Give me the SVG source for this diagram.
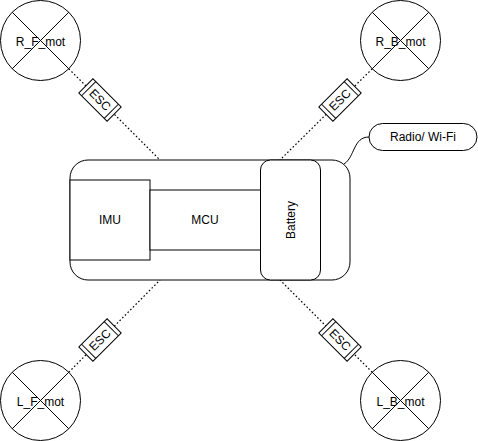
<svg xmlns="http://www.w3.org/2000/svg" width="478" height="441" viewBox="0 0 478 441">
<style>
.s{fill:#fff;stroke:#000;stroke-width:1}
.l{fill:none;stroke:#000;stroke-width:1}
.d{fill:none;stroke:#000;stroke-width:1.2;stroke-dasharray:1.6 2.2}
.t{font-family:"Liberation Sans",Arial,Helvetica,sans-serif;font-size:12px;fill:#000;text-anchor:middle;dominant-baseline:central}
</style>
<defs>
<g id="esc">
<rect class="s" x="-20" y="-10" width="40" height="20"/>
<line class="l" x1="-16" y1="-10" x2="-16" y2="10"/>
<line class="l" x1="16" y1="-10" x2="16" y2="10"/>
</g>
<g id="mot">
<circle class="s" cx="0" cy="0" r="40"/>
<line class="l" x1="-28.3" y1="-28.3" x2="28.3" y2="28.3"/>
<line class="l" x1="28.3" y1="-28.3" x2="-28.3" y2="28.3"/>
</g>
</defs>
<g id="connectors">
<line class="d" x1="68.8" y1="68.8" x2="160" y2="160"/>
<line class="d" x1="372.2" y1="68.8" x2="280" y2="160"/>
<line class="d" x1="68.8" y1="372.2" x2="160" y2="280"/>
<line class="d" x1="372.2" y1="372.2" x2="280" y2="280"/>
<path class="l" d="M 344 164 C 355 157, 353 137, 369 137"/>
</g>
<g id="body">
<rect class="s" x="70" y="160" width="280" height="120" rx="18" ry="18"/>
</g>
<g id="imu">
<rect class="s" x="70" y="180" width="80" height="80"/>
<text class="t" x="110" y="220">IMU</text>
</g>
<g id="mcu">
<rect class="s" x="150" y="190" width="110.5" height="60"/>
<text class="t" x="205" y="220">MCU</text>
</g>
<g id="battery">
<rect class="s" x="260.5" y="160" width="60" height="120" rx="10" ry="10"/>
<text class="t" transform="translate(290.5,220) rotate(-90)">Battery</text>
</g>
<g id="radio">
<rect class="s" x="369" y="123.5" width="108" height="27" rx="13.5" ry="13.5"/>
<text class="t" x="423" y="137">Radio/ Wi-Fi</text>
</g>
<g id="r_f_mot" transform="translate(40.5,40.5)">
<use href="#mot"/>
<text class="t" x="0" y="1">R_F_mot</text>
</g>
<g id="r_b_mot" transform="translate(400.5,40.5)">
<use href="#mot"/>
<text class="t" x="0" y="1">R_B_mot</text>
</g>
<g id="l_f_mot" transform="translate(40.5,400.5)">
<use href="#mot"/>
<text class="t" x="0" y="1">L_F_mot</text>
</g>
<g id="l_b_mot" transform="translate(400.5,400.5)">
<use href="#mot"/>
<text class="t" x="0" y="1">L_B_mot</text>
</g>
<g id="esc_rf" transform="translate(100,100) rotate(45)">
<use href="#esc"/>
<text class="t" x="0" y="0">ESC</text>
</g>
<g id="esc_rb" transform="translate(340,100) rotate(-45)">
<use href="#esc"/>
<text class="t" x="0" y="0">ESC</text>
</g>
<g id="esc_lf" transform="translate(100,340) rotate(-45)">
<use href="#esc"/>
<text class="t" x="0" y="0">ESC</text>
</g>
<g id="esc_lb" transform="translate(340,340) rotate(45)">
<use href="#esc"/>
<text class="t" x="0" y="0">ESC</text>
</g>
</svg>
